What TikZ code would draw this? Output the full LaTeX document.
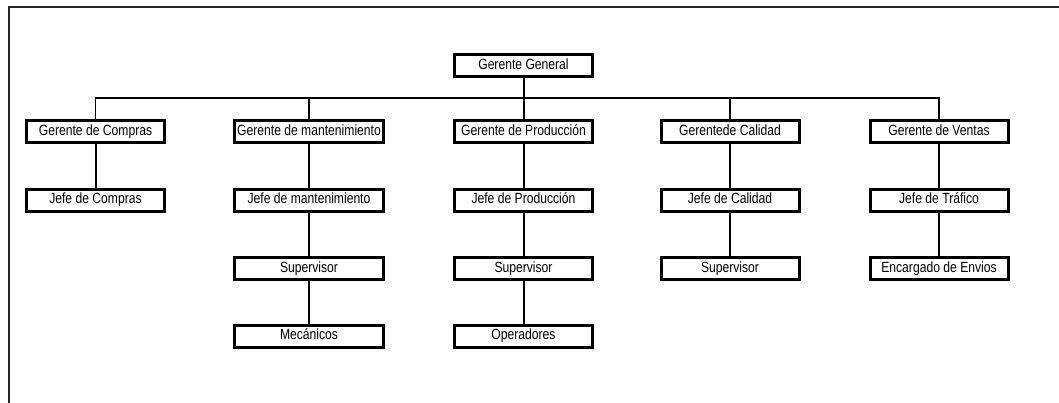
\documentclass[tikz,border=0pt]{standalone}
\usepackage{fontspec}
\setmainfont{Liberation Sans}[FakeStretch=0.82]
\begin{document}
\begin{tikzpicture}[x=1pt,y=-1pt,
  box/.style={draw=black, line width=3pt, fill=white, inner sep=0pt,
    minimum width=138pt, minimum height=22pt, font=\fontsize{14.8pt}{16pt}\selectfont,
    text height=10.5pt, text depth=3pt},
  widebox/.style={box, minimum width=149pt},
  busline/.style={line width=1.3pt},
  link/.style={line width=2pt}]
\useasboundingbox (0,0) rectangle (1059,402);
\fill[white] (0,0) rectangle (1059,402);
\draw[line width=2pt, black!85] (9,405) -- (9,7) -- (1062,7);
% nodes
\node[box] (gg) at (523.5,65.5) {Gerente General};
\coordinate (bus) at (523.5,98);
\node[box] (a1) at (95.5,131.5) {Gerente de Compras};
\node[box] (a2) at (95.5,200) {Jefe de Compras};
\node[widebox] (b1) at (309,131.5) {Gerente de mantenimiento};
\node[widebox] (b2) at (309,200) {Jefe de mantenimiento};
\node[widebox] (b3) at (309,268.5) {Supervisor};
\node[widebox] (b4) at (309,336) {Mecánicos};
\node[box] (c1) at (523.5,131.5) {Gerente de Producción};
\node[box] (c2) at (523.5,200) {Jefe de Producción};
\node[box] (c3) at (523.5,268.5) {Supervisor};
\node[box] (c4) at (523.5,336) {Operadores};
\node[box] (d1) at (730,131.5) {Gerentede Calidad};
\node[box] (d2) at (730,200) {Jefe de Calidad};
\node[box] (d3) at (730,268.5) {Supervisor};
\node[box] (e1) at (939,131.5) {Gerente de Ventas};
\node[box] (e2) at (939,200) {Jefe de Tráfico};
\node[box] (e3) at (939,268.5) {Encargado de Envios};
% connectors
\draw[link] (gg.south) -- (c1.north);
\draw[busline] (a1.north) -- (a1.north |- bus) -- (e1.north |- bus) -- (e1.north);
\draw[busline] (b1.north |- bus) -- (b1.north);
\draw[busline] (d1.north |- bus) -- (d1.north);
\draw[link] (a1.south) -- (a2.north);
\draw[link] (b1.south) -- (b2.north);
\draw[link] (b2.south) -- (b3.north);
\draw[link] (b3.south) -- (b4.north);
\draw[link] (c1.south) -- (c2.north);
\draw[link] (c2.south) -- (c3.north);
\draw[link] (c3.south) -- (c4.north);
\draw[link] (d1.south) -- (d2.north);
\draw[link] (d2.south) -- (d3.north);
\draw[link] (e1.south) -- (e2.north);
\draw[link] (e2.south) -- (e3.north);
\end{tikzpicture}
\end{document}
